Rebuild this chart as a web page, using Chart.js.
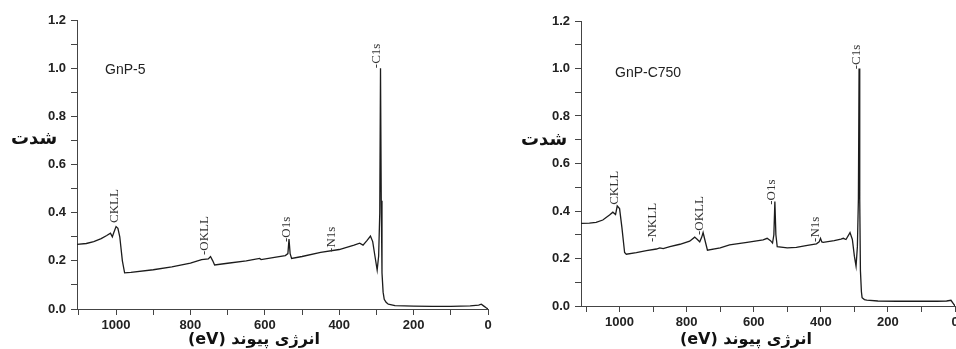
<!DOCTYPE html>
<html>
<head>
<meta charset="utf-8">
<script src="https://cdn.jsdelivr.net/npm/chart.js@4.4.1/dist/chart.umd.min.js"></script>
<style>
  html, body { margin: 0; padding: 0; background: #fff; }
  body { width: 956px; height: 349px; position: relative; overflow: hidden; }
  .box { position: absolute; top: 0; height: 349px; }
</style>
</head>
<body>
<div class="box" style="left:0;width:495px;"><canvas id="c1" width="495" height="349"></canvas></div>
<div class="box" style="left:495px;width:461px;"><canvas id="c2" width="461" height="349"></canvas></div>
<script>
// ---- Data: GnP-5 (left panel) ----
const energyA = [1105, 1080, 1060, 1040, 1025, 1015, 1010, 1006, 1000, 995, 990, 983, 977, 960, 900, 850, 800, 770, 752, 746, 740, 735, 700, 650, 614, 610, 570, 545, 538, 535, 532, 528, 500, 450, 400, 360, 345, 336, 325, 316, 310, 304, 298, 294, 291, 289, 287, 285, 282, 279, 274, 268, 250, 200, 150, 100, 48, 25, 18, 12, 5, 0];
const intensityA = [0.268, 0.272, 0.28, 0.292, 0.305, 0.315, 0.30, 0.318, 0.342, 0.335, 0.30, 0.20, 0.15, 0.152, 0.163, 0.175, 0.19, 0.205, 0.208, 0.218, 0.20, 0.183, 0.19, 0.20, 0.21, 0.205, 0.215, 0.222, 0.23, 0.29, 0.23, 0.21, 0.218, 0.235, 0.247, 0.265, 0.273, 0.265, 0.285, 0.303, 0.28, 0.22, 0.162, 0.22, 0.4, 1.0, 0.45, 0.15, 0.07, 0.04, 0.028, 0.02, 0.014, 0.012, 0.011, 0.011, 0.013, 0.016, 0.02, 0.013, 0.005, 0];
const peakNamesA = ['CKLL', '-OKLL', '-O1s', '-N1s', '-C1s'];
const peakEnergyA = [1004, 762, 541, 420, 299];
const peakLevelA = [0.357, 0.224, 0.278, 0.237, 1.0];

// ---- Data: GnP-C750 (right panel) ----
const energyB = [1115, 1090, 1070, 1050, 1030, 1020, 1012, 1007, 1000, 993, 985, 980, 950, 920, 890, 880, 870, 850, 820, 791, 776, 768, 761, 755, 751, 746, 738, 700, 672, 620, 572, 560, 550, 544, 540, 537, 534, 530, 500, 473, 440, 413, 405, 401, 397, 393, 360, 340, 333, 325, 313, 306, 300, 295, 291, 288, 286, 284, 282, 279, 277, 270, 263, 230, 174, 100, 54, 25, 12, 5, 0];
const intensityB = [0.348, 0.349, 0.352, 0.362, 0.383, 0.395, 0.385, 0.421, 0.41, 0.33, 0.225, 0.218, 0.225, 0.233, 0.24, 0.245, 0.242, 0.25, 0.26, 0.273, 0.29, 0.28, 0.27, 0.29, 0.309, 0.28, 0.235, 0.245, 0.257, 0.268, 0.278, 0.285, 0.275, 0.265, 0.30, 0.44, 0.30, 0.25, 0.245, 0.247, 0.255, 0.262, 0.27, 0.285, 0.27, 0.268, 0.275, 0.282, 0.285, 0.28, 0.309, 0.28, 0.21, 0.168, 0.25, 0.45, 1.0, 0.45, 0.15, 0.06, 0.035, 0.027, 0.025, 0.021, 0.02, 0.02, 0.02, 0.021, 0.024, 0.01, 0];
const peakNamesB = ['CKLL', '-NKLL', '-OKLL', '-O1s', '-N1s', '-C1s'];
const peakEnergyB = [1015, 901, 761, 546, 415, 292];
const peakLevelB = [0.426, 0.27, 0.299, 0.426, 0.27, 0.997];

// ---- Axis ticks / labels ----
const yTicksAll = [0, 0.1, 0.2, 0.3, 0.4, 0.5, 0.6, 0.7, 0.8, 0.9, 1.0, 1.1, 1.2];
const yTicksMajor = [0, 0.2, 0.4, 0.6, 0.8, 1.0, 1.2];
const xTicksAll = [0, 100, 200, 300, 400, 500, 600, 700, 800, 900, 1000, 1100];
const xTicksMajor = [0, 200, 400, 600, 800, 1000];
const yTitle = 'شدت';
const xTitle = 'انرژی پیوند (eV)';
const sampleA = 'GnP-5';
const sampleB = 'GnP-C750';

function makeChart(id, energy, intensity, cfg) {
  const pts = energy.map((e, i) => ({ x: e, y: intensity[i] }));
  const overlay = {
    id: 'overlay',
    afterDraw(chart) {
      const ctx = chart.ctx;
      const xs = chart.scales.x, ys = chart.scales.y;
      ctx.save();
      // sample name
      ctx.fillStyle = '#222';
      ctx.font = '14px "Liberation Sans", Arial, sans-serif';
      ctx.textAlign = 'left';
      ctx.textBaseline = 'middle';
      ctx.fillText(cfg.sample, cfg.sampleX, cfg.sampleY);
      // peak labels (rotated)
      ctx.fillStyle = '#333';
      ctx.font = '13px "Liberation Serif", "Times New Roman", serif';
      cfg.peakNames.forEach((n, i) => {
        const px = xs.getPixelForValue(cfg.peakE[i]);
        const py = ys.getPixelForValue(cfg.peakV[i]);
        ctx.save();
        ctx.translate(px, py);
        ctx.rotate(-Math.PI / 2);
        ctx.textAlign = 'left';
        ctx.textBaseline = 'middle';
        ctx.fillText(n, 0, 0);
        ctx.restore();
      });
      // axis titles (RTL)
      ctx.fillStyle = '#111';
      ctx.direction = 'rtl';
      ctx.textAlign = 'center';
      ctx.textBaseline = 'middle';
      ctx.font = 'bold 18px "DejaVu Sans", sans-serif';
      ctx.fillText(yTitle, cfg.yTitleX, cfg.yTitleY);
      ctx.font = 'bold 16px "DejaVu Sans", sans-serif';
      ctx.fillText(xTitle, cfg.xTitleX, cfg.xTitleY);
      ctx.restore();
    }
  };
  return new Chart(document.getElementById(id), {
    type: 'line',
    data: {
      datasets: [{
        data: pts,
        borderColor: '#1c1c1c',
        borderWidth: 1.3,
        pointRadius: 0,
        tension: 0,
        fill: false
      }]
    },
    options: {
      responsive: false,
      animation: false,
      events: [],
      parsing: false,
      layout: { padding: { top: cfg.padTop, right: cfg.padRight, left: 0, bottom: 0 } },
      plugins: { legend: { display: false }, tooltip: { enabled: false } },
      scales: {
        x: {
          type: 'linear',
          reverse: true,
          min: 0,
          max: cfg.xMax,
          border: { display: true, color: '#444', width: 1 },
          grid: { display: true, drawOnChartArea: false, drawTicks: true, tickLength: 6, color: '#444' },
          afterBuildTicks(s) { s.ticks = xTicksAll.map(v => ({ value: v })); },
          ticks: {
            autoSkip: false,
            maxRotation: 0,
            padding: 3,
            color: '#222',
            font: { family: '"Liberation Sans", Arial, sans-serif', size: 13, weight: 'bold' },
            callback: (v) => {
              const r = Math.round(v);
              return xTicksMajor.includes(r) ? String(r) : '';
            }
          },
          afterFit(s) { s.height = cfg.xAxisH; s.paddingLeft = 0; s.paddingRight = 0; }
        },
        y: {
          type: 'linear',
          min: 0,
          max: 1.2,
          border: { display: true, color: '#444', width: 1 },
          grid: { display: true, drawOnChartArea: false, drawTicks: true, tickLength: 6, color: '#444' },
          afterBuildTicks(s) { s.ticks = yTicksAll.map(v => ({ value: v })); },
          ticks: {
            autoSkip: false,
            padding: 5,
            color: '#222',
            font: { family: '"Liberation Sans", Arial, sans-serif', size: 13, weight: 'bold' },
            callback: (v) => {
              const r = Math.round(v * 10) / 10;
              return yTicksMajor.some(t => Math.abs(t - r) < 1e-6) ? r.toFixed(1) : '';
            }
          },
          afterFit(s) { s.width = cfg.yAxisW; s.paddingTop = 0; s.paddingBottom = 0; }
        }
      }
    },
    plugins: [overlay]
  });
}

makeChart('c1', energyA, intensityA, {
  xMax: 1105, padTop: 20, padRight: 7, xAxisH: 40, yAxisW: 77,
  sample: sampleA, sampleX: 105, sampleY: 70,
  peakNames: peakNamesA, peakE: peakEnergyA, peakV: peakLevelA,
  yTitleX: 34, yTitleY: 139, xTitleX: 254, xTitleY: 340
});

makeChart('c2', energyB, intensityB, {
  xMax: 1115, padTop: 21, padRight: 1, xAxisH: 43, yAxisW: 86,
  sample: sampleB, sampleX: 120, sampleY: 73,
  peakNames: peakNamesB, peakE: peakEnergyB, peakV: peakLevelB,
  yTitleX: 49, yTitleY: 140, xTitleX: 251, xTitleY: 340
});
</script>
</body>
</html>
